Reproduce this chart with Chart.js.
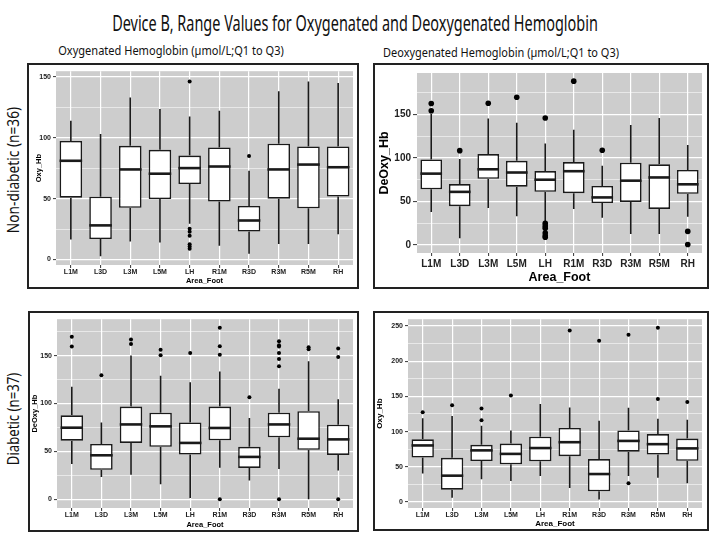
<!DOCTYPE html>
<html>
<head>
<meta charset="utf-8">
<script src="https://cdn.jsdelivr.net/npm/chart.js@4.4.1/dist/chart.umd.min.js"></script>
<style>
  body { margin: 0; width: 709px; height: 533px; background: #fff; position: relative; overflow: hidden; }
  .frame { position: absolute; border: 2px solid #222; box-sizing: border-box; }
  .panel { position: absolute; }
  .txt { position: absolute; white-space: nowrap; color: #111; font-family: "Noto Sans", "Open Sans", sans-serif; line-height: 1; }
</style>
</head>
<body>

<div class="txt" id="main-title" style="font-size:22px">Device B, Range Values for Oxygenated and Deoxygenated Hemoglobin</div>
<div class="txt" id="sub-oxy" style="font-size:13px">Oxygenated Hemoglobin (µmol/L;Q1 to Q3)</div>
<div class="txt" id="sub-deoxy" style="font-size:13px">Deoxygenated Hemoglobin (µmol/L;Q1 to Q3)</div>
<div class="txt" id="row-nd" style="font-size:16px">Non-diabetic (n=36)</div>
<div class="txt" id="row-d" style="font-size:16px">Diabetic (n=37)</div>

<div class="frame" style="left:27px;top:63px;width:332px;height:226px"></div>
<div class="frame" style="left:373px;top:63px;width:336px;height:226px"></div>
<div class="frame" style="left:28px;top:311px;width:331px;height:221px"></div>
<div class="frame" style="left:373px;top:311px;width:336px;height:220px"></div>

<script>
// ---- data ----
const areas = ['L1M', 'L3D', 'L3M', 'L5M', 'LH', 'R1M', 'R3D', 'R3M', 'R5M', 'RH'];

// Non-diabetic, Oxy_Hb
const ndOxyLow  = [16.5, 2.7, 14.7, 13.9, 29.3, 11.2, 4.8, 12.8, 12.8, 20.8];
const ndOxyQ1   = [50.7, 16.8, 42.4, 49.6, 61.9, 47.5, 23.0, 49.9, 42.0, 51.7];
const ndOxyMed  = [81.0, 28.0, 73.9, 70.4, 75.0, 76.3, 32.0, 73.9, 77.9, 75.7];
const ndOxyQ3   = [97.3, 51.5, 93.3, 90.0, 85.3, 92.0, 44.0, 95.0, 92.8, 92.8];
const ndOxyHigh = [113.9, 103.0, 133.0, 123.5, 117.3, 122.0, 72.8, 138.0, 146.0, 144.8];
const ndOxyOut  = [[], [], [], [], [146, 25.3, 22.7, 19.5, 12.5, 10.7, 8.8], [], [85], [], [], []];
const ndOxyTicks = [0, 25, 50, 75, 100, 125, 150];

// Non-diabetic, DeOxy_Hb
const ndDeoxyLow  = [37.7, 7.5, 42.5, 33.0, 27.5, 41.4, 31.3, 12.4, 12.4, 32.4];
const ndDeoxyQ1   = [64.0, 44.5, 76.0, 67.0, 61.0, 59.5, 48.2, 49.4, 41.4, 58.8];
const ndDeoxyMed  = [82.0, 61.0, 87.0, 83.3, 75.0, 84.8, 54.6, 73.9, 77.6, 69.7];
const ndDeoxyQ3   = [98.4, 70.0, 104.5, 96.8, 85.0, 95.3, 67.8, 94.6, 92.7, 86.3];
const ndDeoxyHigh = [151.0, 99.0, 145.6, 140.6, 116.8, 132.6, 91.0, 138.0, 146.0, 115.0];
const ndDeoxyOut  = [[162.8, 154.5], [108.5], [163], [170], [146, 24.9, 21.8, 19.2, 13.6, 10.5, 8.7], [188.5], [109], [], [], [15.5, 0.4]];
const ndDeoxyTicks = [0, 25, 50, 75, 100, 125, 150, 175];

// Diabetic, DeOxy_Hb
const dDeoxyLow  = [36.9, 23.4, 25.7, 15.9, 1.4, 33.0, 19.6, 31.8, 0.0, 30.1];
const dDeoxyQ1   = [61.3, 30.8, 58.9, 54.8, 46.7, 61.6, 32.8, 64.7, 51.8, 46.4];
const dDeoxyMed  = [74.8, 46.0, 78.2, 76.2, 58.9, 74.5, 44.3, 78.2, 63.3, 62.6];
const dDeoxyQ3   = [87.7, 57.9, 96.8, 90.4, 80.2, 96.8, 54.8, 90.4, 92.0, 77.9];
const dDeoxyHigh = [117.5, 80.2, 150.0, 129.0, 122.2, 133.4, 85.0, 115.4, 144.2, 104.6];
const dDeoxyOut  = [[169.6, 159.4], [129.6], [166.9, 162.1], [156, 150.3], [152.7], [179, 159.8, 151, 0],
                    [106.6], [164.9, 160.8, 159.4, 152.7, 146.6, 138.8, 0], [158.8, 156.7], [157.4, 148.6, 0]];
const dDeoxyTicks = [0, 25, 50, 75, 100, 125, 150, 175];

// Diabetic, Oxy_Hb
const dOxyLow  = [40.6, 6.0, 32.3, 30.0, 36.9, 19.8, 3.7, 36.9, 34.6, 26.8];
const dOxyQ1   = [63.2, 17.5, 58.1, 53.5, 57.7, 65.0, 15.2, 71.5, 67.4, 58.6];
const dOxyMed  = [80.3, 37.4, 73.3, 68.3, 76.6, 84.9, 39.7, 86.7, 82.1, 76.1];
const dOxyQ3   = [89.0, 62.7, 81.2, 83.0, 92.7, 105.2, 60.9, 101.5, 96.4, 90.0];
const dOxyHigh = [119.0, 122.2, 108.4, 101.5, 139.3, 134.2, 115.3, 133.8, 118.1, 116.7];
const dOxyOut  = [[127.3], [137.5], [132.9, 116.2], [151.3], [], [243.6], [228.8], [237.6, 26.8], [247.3, 146.2], [142.1]];
const dOxyTicks = [0, 25, 50, 75, 100, 125, 150, 175, 200, 225, 250];

const plotBg = '#cdcdcd';
const ink = '#1a1a1a';

// ---- text placement (headers are html, squeezed to the reference widths) ----
function placeText(id, cx, cy, width, rotate) {
    const el = document.getElementById(id);
    const s = width / el.offsetWidth;
    el.style.left = cx + 'px';
    el.style.top = cy + 'px';
    el.style.transform = `translate(-50%, -50%)${rotate ? ' rotate(-90deg)' : ''} scaleX(${s})`;
}

placeText('main-title', 355, 22, 486);
placeText('sub-oxy', 171, 50, 226);
placeText('sub-deoxy', 501, 52, 236);
placeText('row-nd', 13, 170, 126, true);
placeText('row-d', 13, 419, 92, true);

// ---- boxplot pieces the bar chart can't do itself ----
function boxPlugin(low, med, high, q1, q3) {
    return {
        id: 'boxParts',
        beforeDraw(chart) {
            const a = chart.chartArea, c = chart.ctx;
            c.save();
            c.fillStyle = plotBg;
            c.fillRect(a.left, a.top, a.right - a.left, a.bottom - a.top);
            c.restore();
        },
        beforeDatasetsDraw(chart) {
            const c = chart.ctx, y = chart.scales.y;
            c.save();
            c.strokeStyle = ink;
            c.lineWidth = 1.6;
            chart.getDatasetMeta(0).data.forEach((bar, i) => {
                c.beginPath();
                c.moveTo(bar.x, y.getPixelForValue(high[i]));
                c.lineTo(bar.x, y.getPixelForValue(q3[i]));
                c.moveTo(bar.x, y.getPixelForValue(q1[i]));
                c.lineTo(bar.x, y.getPixelForValue(low[i]));
                c.stroke();
            });
            c.restore();
        },
        afterDatasetsDraw(chart) {
            const c = chart.ctx, y = chart.scales.y;
            c.save();
            c.strokeStyle = ink;
            c.lineWidth = 2.6;
            chart.getDatasetMeta(0).data.forEach((bar, i) => {
                const py = y.getPixelForValue(med[i]);
                c.beginPath();
                c.moveTo(bar.x - bar.width / 2, py);
                c.lineTo(bar.x + bar.width / 2, py);
                c.stroke();
            });
            c.restore();
        }
    };
}

function makePanel(p) {
    const canvas = document.createElement('canvas');
    canvas.className = 'panel';
    canvas.width = p.w;
    canvas.height = p.h;
    canvas.style.left = p.left + 'px';
    canvas.style.top = p.top + 'px';
    document.body.appendChild(canvas);

    const outPts = [];
    p.out.forEach((vals, i) => vals.forEach(v => outPts.push({ x: areas[i], y: v })));

    const tickFont = { family: '"Liberation Sans", Arial, sans-serif', size: p.tickSize, weight: 'bold' };
    const titleFont = { family: '"Liberation Sans", Arial, sans-serif', size: p.titleSize, weight: 'bold' };

    return new Chart(canvas.getContext('2d'), {
        type: 'bar',
        data: {
            labels: areas,
            datasets: [{
                type: 'bar',
                data: p.q1.map((v, i) => [v, p.q3[i]]),
                backgroundColor: '#ffffff',
                borderColor: ink,
                borderWidth: 1.6,
                borderSkipped: false,
                barPercentage: 0.76,
                categoryPercentage: 1,
                order: 2
            }, {
                type: 'scatter',
                data: outPts,
                pointRadius: p.dot,
                pointBackgroundColor: '#000',
                pointBorderWidth: 0,
                order: 1
            }]
        },
        options: {
            responsive: false,
            animation: false,
            layout: { padding: { left: 0, top: p.padTop, right: p.padRight, bottom: 0 } },
            plugins: { legend: { display: false }, tooltip: { enabled: false } },
            scales: {
                x: {
                    offset: true,
                    border: { display: false },
                    grid: { offset: false, color: '#fff', lineWidth: 1.2, tickLength: 3, tickColor: '#333', tickWidth: 1 },
                    ticks: { font: tickFont, color: '#222', padding: p.xTickPad, maxRotation: 0, autoSkip: false },
                    title: { display: true, text: 'Area_Foot', font: titleFont, color: '#000', padding: { top: 0, bottom: p.xTitlePad } },
                    afterFit: s => { s.height = p.xHeight; }
                },
                y: {
                    min: p.yMin,
                    max: p.yMax,
                    border: { display: false },
                    afterBuildTicks: s => { s.ticks = p.ticks.map(v => ({ value: v })); },
                    grid: {
                        color: '#fff',
                        lineWidth: c => (c.tick && c.tick.value % 50 === 0 ? 1.2 : 0.55),
                        tickLength: p.yTickLen,
                        tickColor: c => (c.tick && c.tick.value % 50 === 0 ? '#333' : 'rgba(0,0,0,0)'),
                        tickWidth: 1
                    },
                    ticks: { font: tickFont, color: '#222', padding: 2, callback: v => (v % 50 === 0 ? v : '') },
                    title: { display: true, text: p.yTitle, font: titleFont, color: '#000', padding: { top: p.yTitlePad, bottom: 0 } },
                    afterFit: s => { s.width = p.yWidth; }
                }
            }
        },
        plugins: [boxPlugin(p.low, p.med, p.high, p.q1, p.q3)]
    });
}

makePanel({
    left: 29, top: 65, w: 328, h: 222, padTop: 2, padRight: 4, yWidth: 27, xHeight: 22,
    yMin: -4.5, yMax: 154.5, ticks: ndOxyTicks, yTitle: 'Oxy_Hb',
    tickSize: 7, titleSize: 7.5, xTickPad: 0, xTitlePad: 2, yTitlePad: 5.5, yTickLen: 3, dot: 2,
    low: ndOxyLow, q1: ndOxyQ1, med: ndOxyMed, q3: ndOxyQ3, high: ndOxyHigh, out: ndOxyOut
});

makePanel({
    left: 375, top: 65, w: 331, h: 222, padTop: 5, padRight: 4, yWidth: 42, xHeight: 34,
    yMin: -9.4, yMax: 197.9, ticks: ndDeoxyTicks, yTitle: 'DeOxy_Hb',
    tickSize: 10, titleSize: 12.5, xTickPad: 2, xTitlePad: 2, yTitlePad: 2.5, yTickLen: 4, dot: 2.8,
    low: ndDeoxyLow, q1: ndDeoxyQ1, med: ndDeoxyMed, q3: ndDeoxyQ3, high: ndDeoxyHigh, out: ndDeoxyOut
});

makePanel({
    left: 30, top: 313, w: 327, h: 217, padTop: 2, padRight: 4, yWidth: 27, xHeight: 22,
    yMin: -9, yMax: 188, ticks: dDeoxyTicks, yTitle: 'DeOxy_Hb',
    tickSize: 7, titleSize: 7.5, xTickPad: 0, xTitlePad: 1, yTitlePad: 0, yTickLen: 3, dot: 2,
    low: dDeoxyLow, q1: dDeoxyQ1, med: dDeoxyMed, q3: dDeoxyQ3, high: dDeoxyHigh, out: dDeoxyOut
});

makePanel({
    left: 375, top: 313, w: 331, h: 216, padTop: 2, padRight: 3, yWidth: 33, xHeight: 21,
    yMin: -8.5, yMax: 259.5, ticks: dOxyTicks, yTitle: 'Oxy_Hb',
    tickSize: 7, titleSize: 8, xTickPad: 0, xTitlePad: 0, yTitlePad: 0, yTickLen: 3, dot: 2,
    low: dOxyLow, q1: dOxyQ1, med: dOxyMed, q3: dOxyQ3, high: dOxyHigh, out: dOxyOut
});
</script>
</body>
</html>
